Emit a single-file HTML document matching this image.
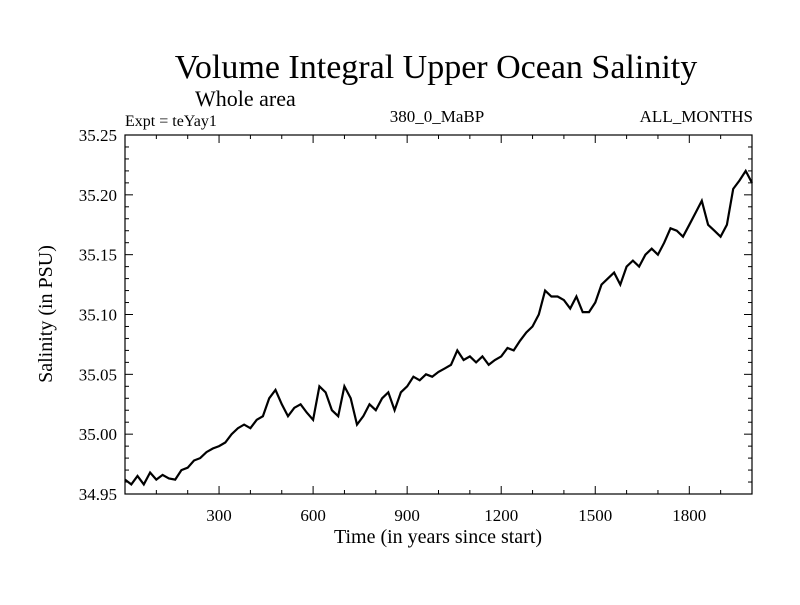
<!DOCTYPE html>
<html><head><meta charset="utf-8"><style>
body{margin:0;background:#fff}
svg text{font-family:"Liberation Serif",serif;fill:#000}
</style></head><body>
<svg id="chart" width="800" height="600">
<text x="436" y="78" font-size="34" text-anchor="middle">Volume Integral Upper Ocean Salinity</text>
<text x="195" y="106" font-size="22">Whole area</text>
<text x="125" y="126" font-size="16">Expt = teYay1</text>
<text x="437" y="122" font-size="17" text-anchor="middle">380_0_MaBP</text>
<text x="753" y="122" font-size="17" text-anchor="end">ALL_MONTHS</text>
<text x="438" y="543" font-size="20" text-anchor="middle">Time (in years since start)</text>
<text transform="translate(52,314) rotate(-90)" font-size="20" text-anchor="middle">Salinity (in PSU)</text>
<g id="axes"></g>
<path id="line" fill="none" stroke="#000" stroke-width="2.2"></path>
<rect x="125" y="135" width="627" height="359" fill="none" stroke="#000" stroke-width="1.2"></rect>
</svg>
<script>
const years = [0,20,40,60,80,100,120,140,160,180,200,220,240,260,280,300,320,340,360,380,400,420,440,460,480,500,520,540,560,580,600,620,640,660,680,700,720,740,760,780,800,820,840,860,880,900,920,940,960,980,1000,1020,1040,1060,1080,1100,1120,1140,1160,1180,1200,1220,1240,1260,1280,1300,1320,1340,1360,1380,1400,1420,1440,1460,1480,1500,1520,1540,1560,1580,1600,1620,1640,1660,1680,1700,1720,1740,1760,1780,1800,1820,1840,1860,1880,1900,1920,1940,1960,1980,2000];
const salinity = [34.962,34.958,34.965,34.958,34.968,34.962,34.966,34.963,34.962,34.970,34.972,34.978,34.980,34.985,34.988,34.990,34.993,35.000,35.005,35.008,35.005,35.012,35.015,35.030,35.037,35.025,35.015,35.022,35.025,35.018,35.012,35.040,35.035,35.020,35.015,35.040,35.030,35.008,35.015,35.025,35.020,35.030,35.035,35.020,35.035,35.040,35.048,35.045,35.050,35.048,35.052,35.055,35.058,35.070,35.062,35.065,35.060,35.065,35.058,35.062,35.065,35.072,35.070,35.078,35.085,35.090,35.100,35.120,35.115,35.115,35.112,35.105,35.115,35.102,35.102,35.110,35.125,35.130,35.135,35.125,35.140,35.145,35.140,35.150,35.155,35.150,35.160,35.172,35.170,35.165,35.175,35.185,35.195,35.175,35.170,35.165,35.175,35.205,35.212,35.220,35.210];
const xTicks = [300,600,900,1200,1500,1800];
const yTicks = [34.95,35.00,35.05,35.10,35.15,35.20,35.25];
const yTickLabels = ["34.95","35.00","35.05","35.10","35.15","35.20","35.25"];

const X0=125,X1=752,Y0=494,Y1=135;
const sx=v=>X0+(v-0)/(2000-0)*(X1-X0);
const sy=v=>Y0-(v-34.95)/(35.25-34.95)*(Y0-Y1);
const NS='http://www.w3.org/2000/svg';
const axes=document.getElementById('axes');
function ln(x1,y1,x2,y2,name){const l=document.createElementNS(NS,'line');
l.setAttribute('x1',x1);l.setAttribute('y1',y1);l.setAttribute('x2',x2);l.setAttribute('y2',y2);
l.setAttribute('stroke','#000');l.setAttribute('stroke-width','1');


axes.appendChild(l);}
function tx(x,y,s,anchor,name){const t=document.createElementNS(NS,'text');
t.setAttribute('x',x);t.setAttribute('y',y);t.setAttribute('font-size','17');t.setAttribute('text-anchor',anchor);t.textContent=s;


axes.appendChild(t);}
for(let v=100;v<2000;v+=100){const x=sx(v);const major=v%300===0;const L=major?8:4;
ln(x,Y0,x,Y0-L,'x-tick');ln(x,Y1,x,Y1+L,'x-tick-top');}
xTicks.forEach(v=>tx(sx(v),521,String(v),'middle','x-tick-label'));
for(let i=0;i<=30;i++){const v=34.95+i*0.01;const y=sy(v);const major=i%5===0;const L=major?8:4;
ln(X0,y,X0+L,y,'y-tick');ln(X1,y,X1-L,y,'y-tick-right');}
yTicks.forEach((v,i)=>tx(117,sy(v)+6,yTickLabels[i],'end','y-tick-label'));
document.getElementById('line').setAttribute('d',years.map((t,i)=>(i?'L':'M')+sx(t).toFixed(1)+','+sy(salinity[i]).toFixed(1)).join(''));
</script>
</body></html>
